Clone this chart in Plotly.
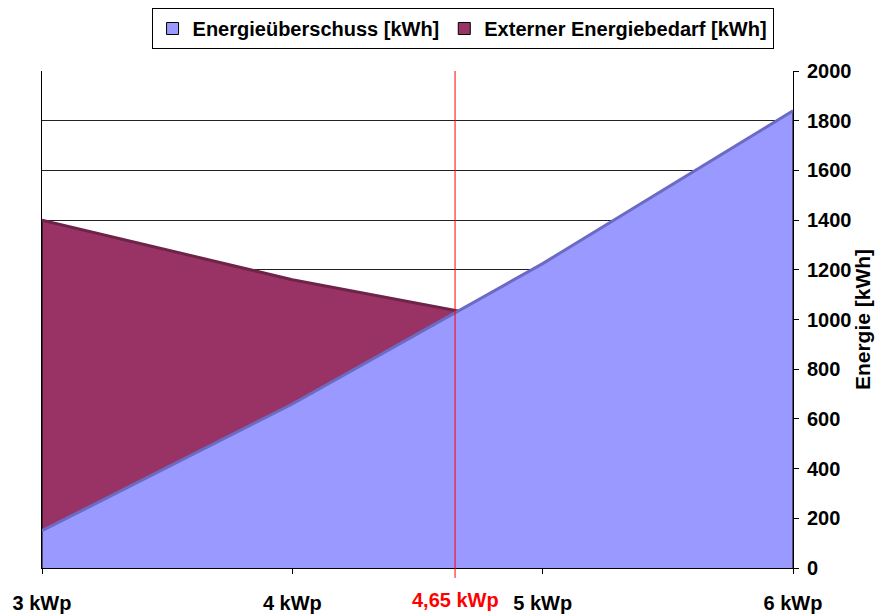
import plotly.graph_objects as go

# =========================
# DATA
# =========================
kwp = [3, 4, 5, 6]
kwp_labels = ["3 kWp", "4 kWp", "5 kWp", "6 kWp"]
ueberschuss = [150, 660, 1225, 1840]
bedarf = [1400, 1160, 970, 780]
break_even = 4.65
break_even_label = "4,65 kWp"

FONT = "Liberation Sans, Arial, sans-serif"

NAME_U = "Energieüberschuss [kWh]"
NAME_B = "Externer Energiebedarf [kWh]"
COL_U = "#9999FF"
COL_B = "#993366"


def area_trace(values, fill):
    # closed polygon so the area gets a dark outline on all sides
    return go.Scatter(
        x=[kwp[0]] + kwp + [kwp[-1]],
        y=[0] + values + [0],
        mode="lines",
        fill="toself",
        fillcolor=fill,
        line=dict(color="#000000", width=1),
        showlegend=False,
        hoverinfo="skip",
    )


def top_edge(values, color):
    return go.Scatter(
        x=kwp,
        y=values,
        mode="lines",
        line=dict(color=color, width=3),
        showlegend=False,
        hoverinfo="skip",
    )


def legend_box(name, color):
    # empty bar trace only to get a square swatch in the legend
    return go.Bar(
        x=[None], y=[None],
        name=name,
        marker=dict(color=color, line=dict(color="black", width=1)),
    )


fig = go.Figure()

# back series first, front series covers it where higher
fig.add_trace(area_trace(bedarf, COL_B))
fig.add_trace(top_edge(bedarf, "#6e2449"))
fig.add_trace(area_trace(ueberschuss, COL_U))
fig.add_trace(top_edge(ueberschuss, "#6b6bc4"))

fig.add_trace(legend_box(NAME_U, COL_U))
fig.add_trace(legend_box(NAME_B, COL_B))

# break-even marker
fig.add_shape(
    type="line",
    x0=break_even, x1=break_even,
    yref="y domain", y0=-0.02, y1=1,
    line=dict(color="#FF0000", width=1),
)
fig.add_annotation(
    x=break_even, xref="x",
    y=0, yref="paper",
    yanchor="middle",
    yshift=-32,
    text=break_even_label,
    showarrow=False,
    font=dict(family=FONT, size=20, color="#FF0000", weight="bold"),
)

# page body adds an 8px offset, so the figure is a bit smaller than the window
fig.update_layout(
    width=879,
    height=608,
    margin=dict(l=34, r=94, t=63, b=48, autoexpand=False),
    paper_bgcolor="white",
    plot_bgcolor="white",
    font=dict(family=FONT, size=20, color="black", weight="bold"),
    showlegend=True,
    legend=dict(
        orientation="h",
        x=0.56, xanchor="center",
        y=1.0, yref="container", yanchor="top",
        bordercolor="black",
        borderwidth=1,
        font=dict(family=FONT, size=20, weight="bold"),
        itemwidth=30,
        tracegroupgap=0,
    ),
    xaxis=dict(
        range=[3, 6],
        tickvals=kwp,
        ticktext=kwp_labels,
        ticks="outside",
        ticklen=5,
        tickcolor="black",
        ticklabelstandoff=12,
        tickfont=dict(family=FONT, size=20, weight="bold"),
        showgrid=False,
        zeroline=False,
        showline=True,
        linecolor="black",
        linewidth=1,
    ),
    yaxis=dict(
        side="right",
        range=[0, 2000],
        dtick=200,
        ticks="outside",
        ticklen=5,
        tickcolor="black",
        ticklabelstandoff=4,
        showgrid=True,
        gridcolor="#222222",
        gridwidth=1,
        zeroline=False,
        showline=True,
        linecolor="black",
        mirror=True,
        title=dict(text="Energie [kWh]", standoff=4,
                   font=dict(family=FONT, size=21, weight="bold")),
        tickfont=dict(family=FONT, size=20, weight="bold"),
    ),
)

fig.write_html("out.html")
